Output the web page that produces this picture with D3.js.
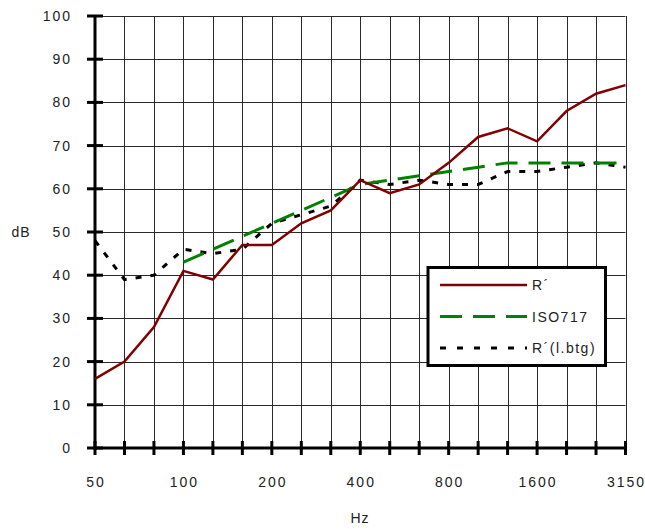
<!DOCTYPE html>
<html><head><meta charset="utf-8">
<script src="https://cdn.jsdelivr.net/npm/d3@7"></script>
<style>body{margin:0;background:#fff}svg{display:block}text{font-family:"Liberation Sans",Arial,sans-serif;fill:#222}</style>
</head><body><svg id="c" width="645" height="529"></svg>
<script>
const freqs = ["50","63","80","100","125","160","200","250","315","400","500","630","800","1000","1250","1600","2000","2500","3150"];
const labelFreqs = ["50","100","200","400","800","1600","3150"];
const yTicks = [0,10,20,30,40,50,60,70,80,90,100];
const rPrime = [16,20,28,41,39,47,47,52,55,62,59,61,66,72,74,71,78,82,84];
const iso717 = [null,null,null,43,46,49,52,55,58,61,62,63,64,65,66,66,66,66,66];
const rPrimeLbtg = [48,39,40,46,45,46,52,54,56,62,61,62,61,61,64,64,65,66,65];
const seriesNames = ["R\u00B4","ISO717","R\u00B4(l.btg)"];

const svg = d3.select("#c");
const x = d3.scalePoint().domain(freqs).range([95, 625.5]);
const y = d3.scaleLinear().domain([0,100]).range([448, 16]);

// grid
const g = svg.append("g");
g.selectAll("line.v").data(freqs).join("line")
  .attr("x1", d => Math.round(x(d)) + 0.5).attr("x2", d => Math.round(x(d)) + 0.5)
  .attr("y1", y(100)).attr("y2", y(0)).attr("stroke", "#2a2a2a").attr("stroke-width", 1);
g.selectAll("line.h").data(yTicks).join("line")
  .attr("x1", x("50")).attr("x2", x("3150"))
  .attr("y1", d => Math.round(y(d)) + 0.5).attr("y2", d => Math.round(y(d)) + 0.5)
  .attr("stroke", "#2a2a2a").attr("stroke-width", 1);

// axes
svg.append("line").attr("x1", x("50")).attr("x2", x("50")).attr("y1", y(100)).attr("y2", y(0) + 2)
  .attr("stroke", "#000").attr("stroke-width", 3);
svg.append("line").attr("x1", x("50") - 1).attr("x2", x("3150") + 1).attr("y1", y(0)).attr("y2", y(0))
  .attr("stroke", "#000").attr("stroke-width", 3);
svg.selectAll("line.yt").data(yTicks).join("line")
  .attr("x1", x("50") - 8).attr("x2", x("50") + 8).attr("y1", d => y(d)).attr("y2", d => y(d))
  .attr("stroke", "#000").attr("stroke-width", 3);
svg.selectAll("line.xt").data(freqs).join("line")
  .attr("x1", d => x(d)).attr("x2", d => x(d)).attr("y1", y(0) - 7).attr("y2", y(0) + 7)
  .attr("stroke", "#000").attr("stroke-width", 3);

// tick labels
svg.selectAll("text.yl").data(yTicks).join("text")
  .attr("x", 72).attr("y", d => y(d) + 5).attr("text-anchor", "end")
  .attr("font-size", 14).attr("letter-spacing", 2).text(d => d);
svg.selectAll("text.xl").data(labelFreqs).join("text")
  .attr("x", d => x(d) + 1).attr("y", 487).attr("text-anchor", "middle")
  .attr("font-size", 14).attr("letter-spacing", 2).text(d => d);
svg.append("text").attr("x", 360).attr("y", 523).attr("text-anchor", "middle")
  .attr("font-size", 14).attr("letter-spacing", 1).text("Hz");
svg.append("text").attr("x", 21).attr("y", 237).attr("text-anchor", "middle")
  .attr("font-size", 14).attr("letter-spacing", 1).text("dB");

// series
const line = d3.line().defined(d => d[1] != null).x(d => x(d[0])).y(d => y(d[1]));
const styles = [
  {data: rPrimeLbtg, color: "#000", width: 3, dash: "6,9"},
  {data: iso717, color: "#008000", width: 3, dash: "22,11"},
  {data: rPrime, color: "#800000", width: 2.5, dash: null}
];
styles.forEach(s => {
  svg.append("path").datum(freqs.map((f, i) => [f, s.data[i]]))
    .attr("d", line).attr("fill", "none").attr("stroke", s.color)
    .attr("stroke-width", s.width).attr("stroke-dasharray", s.dash);
});

// legend
const lg = svg.append("g");
lg.append("rect").attr("x", 428).attr("y", 267.5).attr("width", 177.5).attr("height", 98)
  .attr("fill", "#fff").attr("stroke", "#000").attr("stroke-width", 3);
const legendStyles = [
  {name: seriesNames[0], color: "#800000", width: 2.5, dash: null, yy: 285},
  {name: seriesNames[1], color: "#008000", width: 3, dash: "22,11", yy: 316.5},
  {name: seriesNames[2], color: "#000", width: 3, dash: "6,11", yy: 348}
];
legendStyles.forEach(s => {
  lg.append("line").attr("x1", 440).attr("x2", 527).attr("y1", s.yy).attr("y2", s.yy)
    .attr("stroke", s.color).attr("stroke-width", s.width).attr("stroke-dasharray", s.dash);
  lg.append("text").attr("x", 532).attr("y", s.yy + 5).attr("font-size", 14)
    .attr("letter-spacing", 1.5).text(s.name);
});
</script></body></html>
